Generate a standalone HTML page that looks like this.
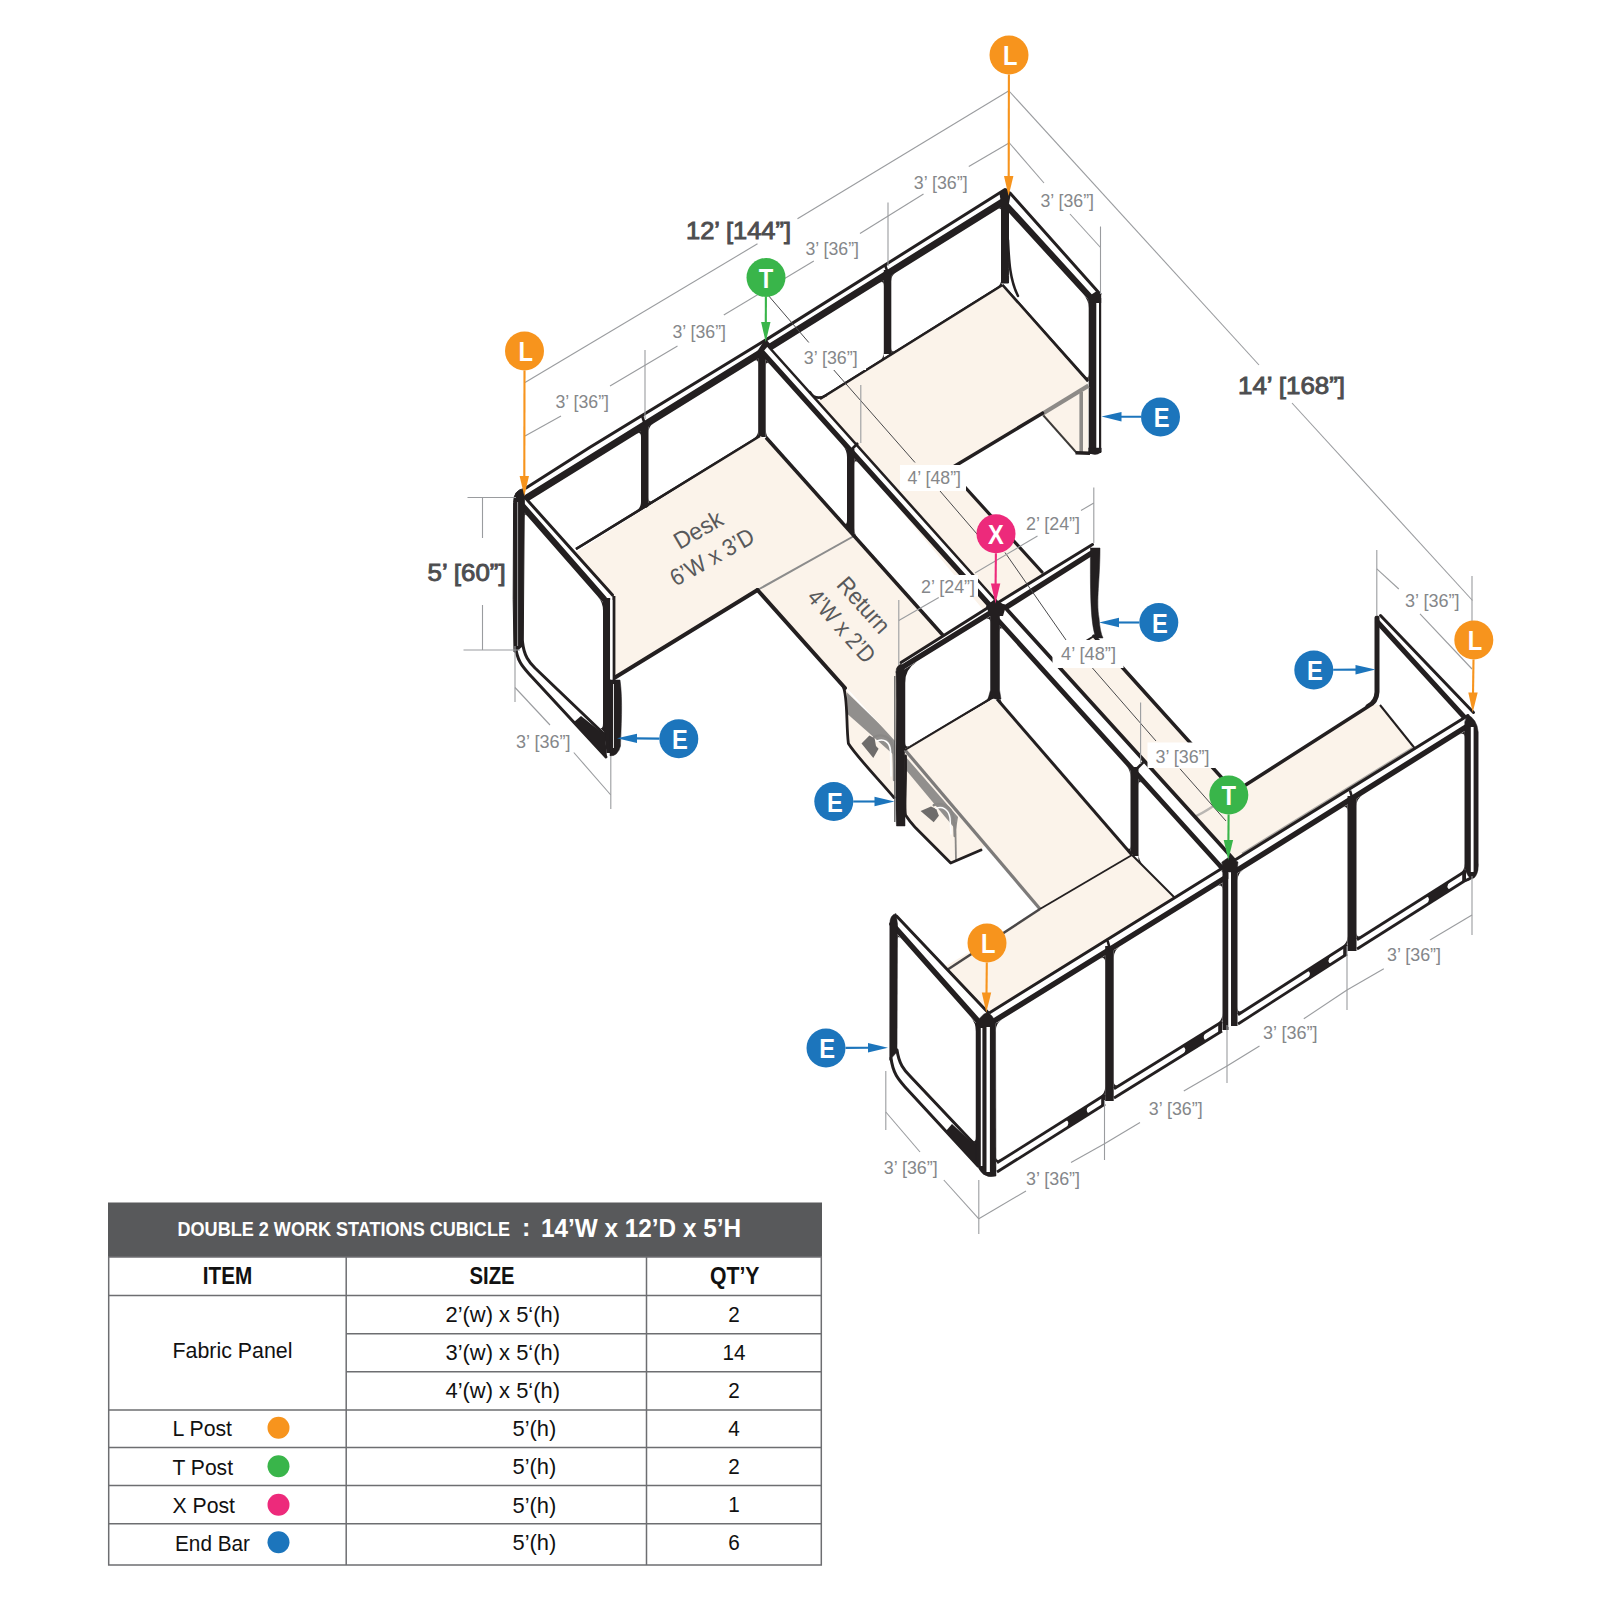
<!DOCTYPE html>
<html><head><meta charset="utf-8"><title>Double 2 Work Stations Cubicle</title>
<style>html,body{margin:0;padding:0;background:#fff}svg{display:block}text{font-family:"Liberation Sans", Arial, sans-serif}</style></head>
<body><svg width="1600" height="1600" viewBox="0 0 1600 1600">
<rect width="1600" height="1600" fill="#fff"/>
<g id="backwall">
<polygon points="526,488 767.5,338.9 1005,189.5 1001.7,202.5 762,352 527.5,497.5" fill="#fff"/>
<polyline points="527.5,497.5 762,352 1001.7,202.5" fill="none" stroke="#231f20" stroke-width="7" stroke-linejoin="round" stroke-linecap="round"/>
<polyline points="526,488 590,447.2 767.5,338.9 1005,189.5" fill="none" stroke="#231f20" stroke-width="3" stroke-linejoin="round" stroke-linecap="round"/>
<rect x="641" y="424" width="7.5" height="84" fill="#231f20"/>
<rect x="883.8" y="270" width="7.5" height="84" fill="#231f20"/>
<rect x="758.2" y="350" width="7.5" height="87" fill="#231f20"/>
<polygon points="757.5,351 765.5,338.5 771,345 766,357" fill="#231f20"/>
<line x1="576" y1="549" x2="760" y2="436" stroke="#231f20" stroke-width="2.5"/>
<line x1="820" y1="399" x2="1002.5" y2="285" stroke="#231f20" stroke-width="2.5"/>
<line x1="642" y1="415.5" x2="645" y2="424.6" stroke="#231f20" stroke-width="2.6"/>
<line x1="885" y1="265" x2="888" y2="273.4" stroke="#231f20" stroke-width="2.6"/>
<path d="M524.3,509.4 Q524.3,503.4 529.4,500.2 L524.3,503.4 Z" fill="#231f20"/>
<path d="M635.9,434.1 Q641,431 641,437 L641,431 Z" fill="#231f20"/>
<path d="M641,502.1 Q641,508.1 635.9,511.2 L641,508.1 Z" fill="#231f20"/>
<path d="M529.4,576.6 Q524.3,579.8 524.3,573.8 L524.3,579.8 Z" fill="#231f20"/>
<path d="M648.5,432.3 Q648.5,426.3 653.6,423.2 L648.5,426.3 Z" fill="#231f20"/>
<path d="M753.2,361.4 Q758.2,358.2 758.2,364.2 L758.2,358.2 Z" fill="#231f20"/>
<path d="M758.2,430.1 Q758.2,436.1 753.1,439.2 L758.2,436.1 Z" fill="#231f20"/>
<path d="M653.6,500.3 Q648.5,503.5 648.5,497.5 L648.5,503.5 Z" fill="#231f20"/>
<path d="M878.7,283.1 Q883.8,280 883.8,286 L883.8,280 Z" fill="#231f20"/>
<path d="M883.8,352.2 Q883.8,358.2 878.7,361.4 L883.8,358.2 Z" fill="#231f20"/>
<path d="M891.2,281.3 Q891.2,275.3 896.3,272.1 L891.2,275.3 Z" fill="#231f20"/>
<path d="M996.4,209.7 Q1001.5,206.5 1001.5,212.5 L1001.5,206.5 Z" fill="#231f20"/>
<path d="M1001.5,278.6 Q1001.5,284.6 996.4,287.8 L1001.5,284.6 Z" fill="#231f20"/>
<path d="M896.3,350.3 Q891.2,353.5 891.2,347.5 L891.2,353.5 Z" fill="#231f20"/>
</g>
<g id="endRT">
<polygon points="1010,193 1100,294 1091,298 1006,205" fill="#fff"/>
<line x1="1010" y1="193" x2="1100" y2="294" stroke="#231f20" stroke-width="3" stroke-linecap="round"/>
<line x1="1006" y1="205" x2="1091" y2="298" stroke="#231f20" stroke-width="6.2" stroke-linecap="round"/>
<polygon points="999.5,193.7 1006.2,188.2 1011,192.6 1008.5,206 1001.5,206" fill="#231f20"/>
<polygon points="1088.5,296.5 1097.5,290.5 1101.2,295 1101.2,303 1088.7,303" fill="#231f20"/>
<path d="M1001.5,198 L1001.5,283 L1008.5,283 C1009,262 1008,250 1008.5,238 L1008.5,200 Z" fill="#231f20" stroke="#231f20" stroke-width="1" stroke-linejoin="round" stroke-linecap="round" />
<path d="M1008,240 C1009,262 1010,280 1018,296" fill="none" stroke="#231f20" stroke-width="2.5" stroke-linejoin="round" stroke-linecap="round" />
<rect x="1088.7" y="297" width="7.6" height="157" fill="#231f20"/>
<rect x="1099" y="298" width="2.2" height="155" fill="#231f20"/>
<path d="M1088.7,452 Q1095,457 1101.2,452 L1101.2,448 L1088.7,448 Z" fill="#231f20" stroke="#231f20" stroke-width="0.5" stroke-linejoin="round" stroke-linecap="round" />
<line x1="1002.5" y1="285" x2="1087.5" y2="380" stroke="#231f20" stroke-width="2.5"/>
<path d="M1083.3,294.2 Q1088.7,300.1 1088.7,308.1 L1088.7,300.1 Z" fill="#231f20"/>
<path d="M1088.7,373.1 Q1088.7,381.1 1083.4,375.1 L1088.7,381.1 Z" fill="#231f20"/>
</g>
<g id="deskUR">
<polygon points="1043,414 1088,385 1088,452 1076.3,452.5" fill="#fbf3ea"/>
<line x1="1043" y1="415" x2="1076.3" y2="452.5" stroke="#3d3a38" stroke-width="1.9"/>
<line x1="1081.2" y1="392" x2="1081.2" y2="452" stroke="#8d8a87" stroke-width="3.6"/>
<line x1="1075.5" y1="452.8" x2="1090" y2="453.2" stroke="#231f20" stroke-width="3.6"/>
<polygon points="812,404 1002.5,285 1088,384 949,467.8 1045,576 985,612" fill="#fbf3ea"/>
<line x1="1088.5" y1="385.6" x2="1042" y2="414" stroke="#8d8a87" stroke-width="4.2"/>
<line x1="1042.5" y1="413.2" x2="949" y2="469.5" stroke="#231f20" stroke-width="3.5" stroke-linecap="round"/>
<line x1="949" y1="469.5" x2="1042" y2="572" stroke="#231f20" stroke-width="3.2" stroke-linecap="round"/>
<line x1="949" y1="469.5" x2="870" y2="455" stroke="#231f20" stroke-width="0"/>
</g>
<g id="spineA">
<polygon points="768,346 996,600.5 990,605.5 762.5,352.5" fill="#fff"/>
<line x1="768" y1="346" x2="996" y2="600.5" stroke="#231f20" stroke-width="2.6" stroke-linecap="round"/>
<line x1="762.5" y1="352.5" x2="990" y2="605.5" stroke="#231f20" stroke-width="5.2" stroke-linecap="round"/>
<rect x="847" y="449" width="7.4" height="84" fill="#231f20"/>
<line x1="766" y1="437.5" x2="991" y2="689" stroke="#231f20" stroke-width="2.5"/>
<line x1="850.5" y1="450.5" x2="858" y2="443" stroke="#231f20" stroke-width="2.6"/>
<path d="M765.8,366.7 Q765.8,359.7 770.4,364.9 L765.8,359.7 Z" fill="#231f20"/>
<path d="M842.3,444.9 Q847,450.1 847,457.1 L847,450.1 Z" fill="#231f20"/>
<path d="M847,520 Q847,527 842.3,521.8 L847,527 Z" fill="#231f20"/>
<path d="M770.4,441.4 Q765.8,436.2 765.8,429.2 L765.8,436.2 Z" fill="#231f20"/>
<path d="M854.4,465.3 Q854.4,458.3 859.1,463.5 L854.4,458.3 Z" fill="#231f20"/>
<path d="M985.8,604.5 Q990.5,609.7 990.5,616.7 L990.5,609.7 Z" fill="#231f20"/>
<path d="M990.5,680.4 Q990.5,687.4 985.8,682.2 L990.5,687.4 Z" fill="#231f20"/>
<path d="M859.1,540.5 Q854.4,535.3 854.4,528.3 L854.4,535.3 Z" fill="#231f20"/>
</g>
<g id="deskUL">
<polygon points="843,686 900,750 900,803 893,797 848.4,743.5 846.5,713" fill="#fbf3ea"/>
<polygon points="847,692.5 895,739 895,756 847.5,714" fill="#918f8d"/>
<polygon points="861.5,743.5 869.4,735.6 874.6,738.2 876,746 878.6,748.7 873.3,758" fill="#6e6c6b"/>
<path d="M874,737 C882,733 892,737 893,748 C894,756 894,770 894,780" fill="none" stroke="#8a8886" stroke-width="2.4" stroke-linejoin="round" stroke-linecap="round" />
<path d="M877,741 C884,738 890,742 890.5,751 L891,776" fill="none" stroke="#fff" stroke-width="1.6" stroke-linejoin="round" stroke-linecap="round" />
<path d="M843,686 C848,696 846,725 848.4,743.5 C856,756 882,783 894,797.5" fill="none" stroke="#231f20" stroke-width="2.8" stroke-linejoin="round" stroke-linecap="round" />
<polygon points="540,575 760,436 768,440 997,694 905,752 757.5,590 615,677.5 615,600" fill="#fbf3ea"/>
<line x1="757.5" y1="590" x2="854" y2="536" stroke="#8c8c8c" stroke-width="2"/>
<line x1="576" y1="549" x2="760" y2="436" stroke="#231f20" stroke-width="2.5"/>
<line x1="766" y1="437.5" x2="991" y2="689" stroke="#231f20" stroke-width="3.5"/>
<line x1="615" y1="677.5" x2="757.5" y2="590" stroke="#231f20" stroke-width="4" stroke-linecap="round"/>
<line x1="757.5" y1="590" x2="845" y2="688" stroke="#231f20" stroke-width="4" stroke-linecap="round"/>
</g>
<g id="endL">
<polygon points="518,495 612,597 612,755 518,650" fill="#fff"/>
<polygon points="525,497.5 612.5,595 603.8,598.8 522.5,506" fill="#fff"/>
<line x1="525" y1="497.5" x2="612.5" y2="595" stroke="#231f20" stroke-width="3" stroke-linecap="round"/>
<line x1="522.5" y1="506" x2="603.8" y2="598.8" stroke="#231f20" stroke-width="6.2" stroke-linecap="round"/>
<path d="M513.6,502 Q513.6,490 524,488.5 L524.3,500 L523.3,640 L523.5,652 L514,652 L513.2,600 Z" fill="#231f20" stroke="#231f20" stroke-width="1" stroke-linejoin="round" stroke-linecap="round" />
<line x1="517.6" y1="502" x2="517.6" y2="646" stroke="#bbb" stroke-width="0.8"/>
<rect x="603" y="598" width="7.2" height="155" fill="#231f20"/>
<rect x="612.4" y="596" width="3" height="84" fill="#231f20"/>
<rect x="610.2" y="600" width="2.2" height="150" fill="#fff"/>
<path d="M597.7,596.5 Q603,602.5 603,610.5 L603,602.5 Z" fill="#231f20"/>
<path d="M603,723.6 Q603,731.6 597.2,726.1 L603,731.6 Z" fill="#231f20"/>
<path d="M524.3,517.7 Q524.3,512.7 527.6,516.4 L524.3,512.7 Z" fill="#231f20"/>
<path d="M612,680 L620,680 C623,700 621,730 620.5,746 Q618,756 610,756 L610,680 Z" fill="#231f20" stroke="#231f20" stroke-width="0.5" stroke-linejoin="round" stroke-linecap="round" />
<line x1="613.5" y1="684" x2="613.5" y2="748" stroke="#ddd" stroke-width="1"/>
<polygon points="516,652 607,757 604,732 523,646" fill="#fff"/>
<path d="M515.5,646 C517,662 524,668 531,676 L606,757" fill="none" stroke="#231f20" stroke-width="3" stroke-linejoin="round" stroke-linecap="round" />
<path d="M522.5,642 C524,656 529,662 535,668 L604,734" fill="none" stroke="#231f20" stroke-width="3" stroke-linejoin="round" stroke-linecap="round" />
<polygon points="574,722 581,716 605,735 607,757" fill="#231f20"/>
</g>
<line x1="820" y1="399" x2="1002.5" y2="285" stroke="#231f20" stroke-width="2.5"/>
<line x1="1002.5" y1="285" x2="1088" y2="381.5" stroke="#231f20" stroke-width="2.5"/>
<path d="M826,395.5 Q815,401 810,392" fill="none" stroke="#231f20" stroke-width="2.5" stroke-linejoin="round" stroke-linecap="round" />
<g id="cross">
<polygon points="899,667 995,608 995,765 899,822" fill="#fff"/>
<polygon points="996,606 1094,547 1094,637 996,698" fill="#fff"/>
<polygon points="901,662.5 993,604.5 991,612.5 899.5,669" fill="#fff"/>
<line x1="901" y1="662.5" x2="993" y2="604.5" stroke="#231f20" stroke-width="3" stroke-linecap="round"/>
<line x1="899.5" y1="669" x2="991" y2="612.5" stroke="#231f20" stroke-width="5.5" stroke-linecap="round"/>
<polygon points="999,602 1092.5,544.5 1091,553.5 1001,610.5" fill="#fff"/>
<line x1="999" y1="602" x2="1092.5" y2="544.5" stroke="#231f20" stroke-width="3" stroke-linecap="round"/>
<line x1="1001" y1="610.5" x2="1091" y2="553.5" stroke="#231f20" stroke-width="5.5" stroke-linecap="round"/>
<path d="M896,672 Q896,666 901,664 L905,670 L905,826 L896.5,826 C895,800 897,700 896,672 Z" fill="#231f20" stroke="#231f20" stroke-width="0.5" stroke-linejoin="round" stroke-linecap="round" />
<line x1="894.8" y1="676" x2="894.8" y2="822" stroke="#555" stroke-width="1.2"/>
<line x1="905" y1="750" x2="991" y2="698.5" stroke="#231f20" stroke-width="2.5"/>
<path d="M984.5,620 Q990.5,616.3 990.5,623.3 L990.5,616.3 Z" fill="#231f20"/>
<path d="M990.5,690.8 Q990.5,697.8 984.5,701.4 L990.5,697.8 Z" fill="#231f20"/>
<path d="M911,745.4 Q905,749 905,742 L905,749 Z" fill="#231f20"/>
<path d="M905,683.1 Q905,669.1 916.9,661.7 L905,669.1 Z" fill="#231f20"/>
<path d="M1090.5,548 L1100,548 C1100,580 1096,600 1099,618 Q1100,632 1103,638 L1096,638 C1091,625 1090,600 1090.5,548 Z" fill="#231f20" stroke="#231f20" stroke-width="0.5" stroke-linejoin="round" stroke-linecap="round" />
</g>
<g id="endRB">
<polygon points="1380.5,615.5 1473.5,712.5 1466,719 1377.5,622" fill="#fff"/>
<line x1="1380.5" y1="615.5" x2="1473.5" y2="712.5" stroke="#231f20" stroke-width="3" stroke-linecap="round"/>
<line x1="1377.5" y1="622" x2="1466" y2="719" stroke="#231f20" stroke-width="5" stroke-linecap="round"/>
<path d="M1377,618 L1377,692 Q1376.5,702 1368,706.5" fill="none" stroke="#231f20" stroke-width="5" stroke-linejoin="round" stroke-linecap="round" />
</g>
<g id="deskLR">
<polygon points="1049,664 1094,636 1234.6,792 1372.5,703.8 1380,705 1416,749 1236,862" fill="#fbf3ea"/>
<line x1="1094" y1="636" x2="1234.6" y2="792" stroke="#231f20" stroke-width="3.5" stroke-linecap="round"/>
<line x1="1234.6" y1="792" x2="1372.5" y2="703.8" stroke="#231f20" stroke-width="3.5" stroke-linecap="round"/>
<line x1="1380" y1="705" x2="1414.5" y2="748" stroke="#231f20" stroke-width="2"/>
<line x1="1049" y1="664" x2="1094" y2="636" stroke="#231f20" stroke-width="2"/>
<line x1="1242" y1="853.5" x2="1413" y2="747.5" stroke="#a9a6a2" stroke-width="1.8"/>
<path d="M1192.5,817.5 Q1200,815 1215,805" fill="none" stroke="#b9b6b2" stroke-width="2.5" stroke-linejoin="round" stroke-linecap="round" />
</g>
<g id="spineB">
<polygon points="992,612 1224,868 1224,905 992,700" fill="#fff"/>
<polygon points="1003.8,606 1236,862 1222,868 992,613.5" fill="#fff"/>
<line x1="1003.8" y1="606" x2="1236" y2="862" stroke="#231f20" stroke-width="3.7" stroke-linecap="round"/>
<line x1="992" y1="613.5" x2="1222" y2="868" stroke="#231f20" stroke-width="4.8" stroke-linecap="round"/>
<rect x="1130.5" y="767" width="8" height="89" fill="#231f20"/>
<line x1="1136" y1="769.5" x2="1143.5" y2="762" stroke="#231f20" stroke-width="2.6"/>
<path d="M990.5,610 L990.5,690 L988,699 L1001,699 L999.5,690 L999.5,610 Z" fill="#231f20" stroke="#231f20" stroke-width="0.5" stroke-linejoin="round" stroke-linecap="round" />
<polygon points="986,606 995,599 1006,606 1003,616 990,616" fill="#231f20"/>
<path d="M999.5,632.2 Q999.5,625.2 1004.2,630.4 L999.5,625.2 Z" fill="#231f20"/>
<path d="M1125.8,765 Q1130.5,770.2 1130.5,777.2 L1130.5,770.2 Z" fill="#231f20"/>
<path d="M1130.5,845.1 Q1130.5,852.1 1125.9,846.8 L1130.5,852.1 Z" fill="#231f20"/>
<path d="M1004.1,706 Q999.5,700.7 999.5,693.7 L999.5,700.7 Z" fill="#231f20"/>
<path d="M1138.5,786 Q1138.5,779 1143.2,784.2 L1138.5,779 Z" fill="#231f20"/>
<path d="M1217.8,866.8 Q1222.5,872 1222.5,879 L1222.5,872 Z" fill="#231f20"/>
<path d="M1143.4,865.4 Q1138.5,860.5 1138.5,853.5 L1138.5,860.5 Z" fill="#231f20"/>
</g>
<g id="deskLL">
<polygon points="904.8,752 985,845 981,850 950.7,863 915.3,827.5 904.8,814.5" fill="#fbf3ea"/>
<polygon points="905,756 958,817 956,830 906,770" fill="#918f8d"/>
<polygon points="920.6,811 931,806.5 936.3,809 938.9,815.7 933.7,822.2" fill="#6e6c6b"/>
<path d="M933.7,805.2 C941,802 951,806 953,816 C954.5,824 954.7,830 954.7,836" fill="none" stroke="#8a8886" stroke-width="2.4" stroke-linejoin="round" stroke-linecap="round" />
<path d="M936,808.5 C942,806 948.5,809 950,818 L951,834" fill="none" stroke="#fff" stroke-width="1.5" stroke-linejoin="round" stroke-linecap="round" />
<line x1="955.3" y1="822" x2="956" y2="861" stroke="#8a8886" stroke-width="1.8"/>
<path d="M905.5,756 C906,790 904,806 905.5,815 C910,822 912,824 915.3,827.5 L950.7,863 L981,850" fill="none" stroke="#231f20" stroke-width="2.8" stroke-linejoin="round" stroke-linecap="round" />
<polygon points="905,749 994,698.5 1133,855 1040,909" fill="#fbf3ea"/>
<polygon points="894,997 1132,855 1176,899 1229,960 990,1110" fill="#fbf3ea"/>
<line x1="905" y1="750" x2="1040" y2="909" stroke="#7d7b7a" stroke-width="3.2"/>
<line x1="905" y1="750" x2="991" y2="698.5" stroke="#231f20" stroke-width="2"/>
<line x1="947" y1="970" x2="1040" y2="909" stroke="#4a4747" stroke-width="2.5"/>
<line x1="1040" y1="909" x2="1132" y2="855" stroke="#231f20" stroke-width="1.8"/>
<line x1="997" y1="699" x2="1132" y2="855" stroke="#231f20" stroke-width="3"/>
<line x1="1132" y1="855" x2="1175" y2="898" stroke="#231f20" stroke-width="2"/>
</g>
<g id="front">
<polygon points="988,1018 1472,720 1476,880 988,1178" fill="#fff"/>
<polygon points="990,1012.5 1229,864 1229,875.5 992.5,1022" fill="#fff"/>
<line x1="990" y1="1012.5" x2="1229" y2="864" stroke="#231f20" stroke-width="3" stroke-linecap="round"/>
<line x1="992.5" y1="1022" x2="1229" y2="875.5" stroke="#231f20" stroke-width="5.5" stroke-linecap="round"/>
<polygon points="1235,860 1468,715.5 1466,727 1237.5,870" fill="#fff"/>
<line x1="1235" y1="860" x2="1468" y2="715.5" stroke="#231f20" stroke-width="3" stroke-linecap="round"/>
<line x1="1237.5" y1="870" x2="1466" y2="727" stroke="#231f20" stroke-width="5.5" stroke-linecap="round"/>
<rect x="1105.2" y="946" width="8.5" height="155" fill="#231f20"/>
<rect x="1347.5" y="796" width="9" height="155" fill="#231f20"/>
<rect x="1222.5" y="868" width="6" height="162" fill="#231f20"/>
<rect x="1231" y="868" width="6.5" height="158" fill="#231f20"/>
<rect x="1228.5" y="872" width="2.5" height="155" fill="#fff"/>
<path d="M1222,862 L1229,857 L1238,862 L1237,872 L1222.5,872 Z" fill="#231f20" stroke="#231f20" stroke-width="0.5" stroke-linejoin="round" stroke-linecap="round" />
<path d="M1464.8,722 L1464.8,868 Q1468,880 1474,878 Q1478.2,874 1478.2,866 L1478.2,732 Q1477,719 1467.5,714.5 Z" fill="#231f20" stroke="#231f20" stroke-width="0.5" stroke-linejoin="round" stroke-linecap="round" />
<line x1="1472.2" y1="727" x2="1472.2" y2="872" stroke="#fff" stroke-width="2.8"/>
<path d="M1476.8,864 Q1477,877 1465.5,880.5" fill="none" stroke="#231f20" stroke-width="2.8" stroke-linejoin="round" stroke-linecap="round" />
<line x1="997" y1="1162.8" x2="1105" y2="1094.8" stroke="#231f20" stroke-width="2.8"/>
<line x1="997" y1="1172" x2="1105" y2="1104" stroke="#231f20" stroke-width="2.8"/>
<path d="M1065.4,1119.7 Q1071.4,1121.8 1065.4,1128.9 L1089.6,1113.7 Q1083.6,1111.6 1089.6,1104.5 Z" fill="#231f20"/>
<polygon points="1101.2,1097.2 1105,1094.8 1105,1104 1101.2,1106.4" fill="#231f20"/>
<line x1="1114" y1="1088.8" x2="1222" y2="1021.8" stroke="#231f20" stroke-width="2.8"/>
<line x1="1114" y1="1098" x2="1222" y2="1031" stroke="#231f20" stroke-width="2.8"/>
<path d="M1182.4,1046.4 Q1188.4,1048.5 1182.4,1055.6 L1206.6,1040.6 Q1200.6,1038.5 1206.6,1031.4 Z" fill="#231f20"/>
<polygon points="1218.2,1024.1 1222,1021.8 1222,1031 1218.2,1033.3" fill="#231f20"/>
<line x1="1238" y1="1014.8" x2="1347" y2="944.8" stroke="#231f20" stroke-width="2.8"/>
<line x1="1238" y1="1024" x2="1347" y2="954" stroke="#231f20" stroke-width="2.8"/>
<path d="M1307,970.4 Q1313,972.5 1307,979.6 L1331.4,964.1 Q1325.4,962 1331.4,954.9 Z" fill="#231f20"/>
<polygon points="1343.2,947.2 1347,944.8 1347,954 1343.2,956.5" fill="#231f20"/>
<line x1="1357" y1="939.8" x2="1466" y2="870.8" stroke="#231f20" stroke-width="2.8"/>
<line x1="1357" y1="949" x2="1466" y2="880" stroke="#231f20" stroke-width="2.8"/>
<path d="M1426,896.1 Q1432,898.2 1426,905.3 L1450.4,889.9 Q1444.4,887.8 1450.4,880.7 Z" fill="#231f20"/>
<polygon points="1462.2,873.2 1466,870.8 1466,880 1462.2,882.4" fill="#231f20"/>
<line x1="1107.5" y1="940.5" x2="1110.5" y2="951" stroke="#231f20" stroke-width="2.6"/>
<line x1="1350" y1="790.5" x2="1353" y2="801" stroke="#231f20" stroke-width="2.6"/>
<path d="M995.8,1030.5 Q995.8,1023.5 1001.8,1019.8 L995.8,1023.5 Z" fill="#231f20"/>
<path d="M1099.3,959.3 Q1105.2,955.7 1105.2,962.7 L1105.2,955.7 Z" fill="#231f20"/>
<path d="M1105.2,1086.4 Q1105.2,1093.4 1099.3,1097.2 L1105.2,1093.4 Z" fill="#231f20"/>
<path d="M1001.7,1158.6 Q995.8,1162.4 995.8,1155.4 L995.8,1162.4 Z" fill="#231f20"/>
<path d="M1113.8,957.4 Q1113.8,950.4 1119.7,946.7 L1113.8,950.4 Z" fill="#231f20"/>
<path d="M1216.5,886.7 Q1222.5,883 1222.5,890 L1222.5,883 Z" fill="#231f20"/>
<path d="M1222.5,1013.3 Q1222.5,1020.3 1216.6,1024 L1222.5,1020.3 Z" fill="#231f20"/>
<path d="M1119.7,1084.1 Q1113.8,1087.8 1113.8,1080.8 L1113.8,1087.8 Z" fill="#231f20"/>
<path d="M1237.5,880.5 Q1237.5,873.5 1243.4,869.8 L1237.5,873.5 Z" fill="#231f20"/>
<path d="M1341.6,808.4 Q1347.5,804.7 1347.5,811.7 L1347.5,804.7 Z" fill="#231f20"/>
<path d="M1347.5,936.3 Q1347.5,943.3 1341.6,947.1 L1347.5,943.3 Z" fill="#231f20"/>
<path d="M1243.4,1010.1 Q1237.5,1013.9 1237.5,1006.9 L1237.5,1013.9 Z" fill="#231f20"/>
<path d="M1356.5,806 Q1356.5,799 1362.4,795.3 L1356.5,799 Z" fill="#231f20"/>
<path d="M1458.9,735 Q1464.8,731.3 1464.8,738.3 L1464.8,731.3 Z" fill="#231f20"/>
<path d="M1464.8,863.4 Q1464.8,870.4 1458.9,874.1 L1464.8,870.4 Z" fill="#231f20"/>
<path d="M1362.4,935.2 Q1356.5,938.9 1356.5,931.9 L1356.5,938.9 Z" fill="#231f20"/>
</g>
<g id="endLB">
<polygon points="891,922 982,1020 982,1170 891,1068" fill="#fff"/>
<polygon points="896.5,916 988,1012.5 978.5,1021.5 892,924" fill="#fff"/>
<line x1="896.5" y1="916" x2="988" y2="1012.5" stroke="#231f20" stroke-width="3" stroke-linecap="round"/>
<line x1="892" y1="924" x2="978.5" y2="1021.5" stroke="#231f20" stroke-width="5.5" stroke-linecap="round"/>
<path d="M889.8,924 Q889.8,915 896,913.5 L897.5,924 L897,1052 L889.8,1060 Z" fill="#231f20" stroke="#231f20" stroke-width="0.5" stroke-linejoin="round" stroke-linecap="round" />
<path d="M891,1058 C893,1074 899,1080 906,1088 L978,1166" fill="none" stroke="#231f20" stroke-width="3" stroke-linejoin="round" stroke-linecap="round" />
<path d="M897,1050 C899,1064 904,1070 910,1076 L978,1148" fill="none" stroke="#231f20" stroke-width="3" stroke-linejoin="round" stroke-linecap="round" />
<polygon points="946,1131 952,1124 978,1148 978,1166" fill="#231f20"/>
<path d="M970.7,1017.3 Q976,1023.3 976,1031.3 L976,1023.3 Z" fill="#231f20"/>
<path d="M976,1136.5 Q976,1144.5 970.5,1138.7 L976,1144.5 Z" fill="#231f20"/>
<path d="M897.5,939.8 Q897.5,934.8 900.8,938.5 L897.5,934.8 Z" fill="#231f20"/>
<path d="M976,1022 L976,1160 Q980,1180 996,1176 L995.5,1022 Q990,1010 984,1014 Z" fill="#231f20" stroke="#231f20" stroke-width="0.5" stroke-linejoin="round" stroke-linecap="round" />
<line x1="981.6" y1="1028" x2="981.6" y2="1166" stroke="#fff" stroke-width="1.6"/>
<line x1="988.2" y1="1027" x2="988.2" y2="1172" stroke="#fff" stroke-width="3.4"/>
</g>
<g id="dims" stroke-linecap="butt">
<line x1="525" y1="382.5" x2="757.5" y2="243.8" stroke="#9a9c9f" stroke-width="1.1"/>
<line x1="797.5" y1="218.8" x2="1008.5" y2="91" stroke="#9a9c9f" stroke-width="1.1"/>
<line x1="525" y1="436" x2="561" y2="416" stroke="#9a9c9f" stroke-width="1.1"/>
<line x1="610" y1="386" x2="677.5" y2="346" stroke="#9a9c9f" stroke-width="1.1"/>
<line x1="723.8" y1="315" x2="813.8" y2="261" stroke="#9a9c9f" stroke-width="1.1"/>
<line x1="860" y1="233.5" x2="923.5" y2="194" stroke="#9a9c9f" stroke-width="1.1"/>
<line x1="968.8" y1="166.5" x2="1009" y2="143" stroke="#9a9c9f" stroke-width="1.1"/>
<line x1="645" y1="350" x2="645" y2="419" stroke="#9a9c9f" stroke-width="1.1"/>
<line x1="888" y1="202.5" x2="888" y2="266" stroke="#9a9c9f" stroke-width="1.1"/>
<line x1="1009" y1="91" x2="1259" y2="365" stroke="#9a9c9f" stroke-width="1.1"/>
<line x1="1292" y1="403" x2="1472.5" y2="600.5" stroke="#9a9c9f" stroke-width="1.1"/>
<line x1="1009" y1="142.5" x2="1044" y2="183" stroke="#9a9c9f" stroke-width="1.1"/>
<line x1="1070" y1="214" x2="1100.5" y2="247.5" stroke="#9a9c9f" stroke-width="1.1"/>
<line x1="1100.5" y1="226.5" x2="1100.5" y2="294" stroke="#9a9c9f" stroke-width="1.1"/>
<line x1="1376.8" y1="550" x2="1376.8" y2="615" stroke="#9a9c9f" stroke-width="1.1"/>
<line x1="1472" y1="576" x2="1472" y2="622" stroke="#9a9c9f" stroke-width="1.1"/>
<line x1="1376.8" y1="568.8" x2="1398.8" y2="589" stroke="#9a9c9f" stroke-width="1.1"/>
<line x1="1420" y1="613.8" x2="1472" y2="669" stroke="#9a9c9f" stroke-width="1.1"/>
<line x1="467.5" y1="497.5" x2="516" y2="497.5" stroke="#9a9c9f" stroke-width="1.1"/>
<line x1="482.5" y1="497.5" x2="482.5" y2="538" stroke="#9a9c9f" stroke-width="1.1"/>
<line x1="482.5" y1="605" x2="482.5" y2="650" stroke="#9a9c9f" stroke-width="1.1"/>
<line x1="463.5" y1="650" x2="520" y2="650" stroke="#9a9c9f" stroke-width="1.1"/>
<line x1="515" y1="646" x2="515" y2="702" stroke="#9a9c9f" stroke-width="1.1"/>
<line x1="515" y1="687.5" x2="550" y2="725" stroke="#9a9c9f" stroke-width="1.1"/>
<line x1="573.8" y1="752.5" x2="610.8" y2="795" stroke="#9a9c9f" stroke-width="1.1"/>
<line x1="610.8" y1="756" x2="610.8" y2="809" stroke="#9a9c9f" stroke-width="1.1"/>
<line x1="768.8" y1="296" x2="808.8" y2="342.5" stroke="#4a4a4c" stroke-width="1"/>
<line x1="833.8" y1="370" x2="915" y2="462.5" stroke="#4a4a4c" stroke-width="1"/>
<line x1="940" y1="491" x2="980" y2="537.5" stroke="#4a4a4c" stroke-width="1"/>
<line x1="1005" y1="552.5" x2="1066" y2="640" stroke="#4a4a4c" stroke-width="1"/>
<line x1="1092" y1="667.5" x2="1156" y2="741" stroke="#4a4a4c" stroke-width="1"/>
<line x1="1180" y1="768.8" x2="1226" y2="821" stroke="#4a4a4c" stroke-width="1"/>
<line x1="860.8" y1="385" x2="860.8" y2="443" stroke="#9a9c9f" stroke-width="1.1"/>
<line x1="1140.6" y1="702.5" x2="1140.6" y2="764" stroke="#9a9c9f" stroke-width="1.1"/>
<line x1="1093.8" y1="487.5" x2="1093.8" y2="543" stroke="#9a9c9f" stroke-width="1.1"/>
<line x1="1093.8" y1="503" x2="1081" y2="510.5" stroke="#9a9c9f" stroke-width="1.1"/>
<line x1="1037.5" y1="536" x2="975" y2="573" stroke="#9a9c9f" stroke-width="1.1"/>
<line x1="938.8" y1="597.5" x2="898.8" y2="620.5" stroke="#9a9c9f" stroke-width="1.1"/>
<line x1="898.8" y1="600" x2="898.8" y2="665" stroke="#9a9c9f" stroke-width="1.1"/>
<line x1="885.8" y1="1071" x2="885.8" y2="1130" stroke="#9a9c9f" stroke-width="1.1"/>
<line x1="978.8" y1="1180" x2="978.8" y2="1234" stroke="#9a9c9f" stroke-width="1.1"/>
<line x1="1104.5" y1="1100" x2="1104.5" y2="1160" stroke="#9a9c9f" stroke-width="1.1"/>
<line x1="1227" y1="1025" x2="1227" y2="1083" stroke="#9a9c9f" stroke-width="1.1"/>
<line x1="1347" y1="946" x2="1347" y2="1010" stroke="#9a9c9f" stroke-width="1.1"/>
<line x1="1472" y1="876" x2="1472" y2="935" stroke="#9a9c9f" stroke-width="1.1"/>
<line x1="885.8" y1="1112" x2="920" y2="1152" stroke="#9a9c9f" stroke-width="1.1"/>
<line x1="943.8" y1="1180" x2="978.8" y2="1218.8" stroke="#9a9c9f" stroke-width="1.1"/>
<line x1="978.8" y1="1218.8" x2="1026" y2="1191" stroke="#9a9c9f" stroke-width="1.1"/>
<line x1="1071" y1="1162.5" x2="1104.5" y2="1143.8" stroke="#9a9c9f" stroke-width="1.1"/>
<line x1="1104.5" y1="1143.8" x2="1140" y2="1122.5" stroke="#9a9c9f" stroke-width="1.1"/>
<line x1="1183.8" y1="1091" x2="1227" y2="1066" stroke="#9a9c9f" stroke-width="1.1"/>
<line x1="1227" y1="1066" x2="1259.5" y2="1046" stroke="#9a9c9f" stroke-width="1.1"/>
<line x1="1303.8" y1="1018.8" x2="1347" y2="990" stroke="#9a9c9f" stroke-width="1.1"/>
<line x1="1347" y1="990" x2="1383.8" y2="968.8" stroke="#9a9c9f" stroke-width="1.1"/>
<line x1="1430" y1="940" x2="1472" y2="915" stroke="#9a9c9f" stroke-width="1.1"/>
</g>
<g id="dimtext">
<rect x="900" y="465" width="66" height="26" fill="#fff"/>
<rect x="919" y="575" width="59" height="21.5" fill="#fff"/>
<rect x="801" y="348" width="65" height="22" fill="#fff"/>
<rect x="1052.5" y="640" width="71" height="28" fill="#fff"/>
<rect x="1147.5" y="742.5" width="68" height="25.5" fill="#fff"/>
<text x="555.5" y="408" font-size="17.6" fill="#85878a" text-anchor="start" textLength="53.5" lengthAdjust="spacingAndGlyphs">3’ [36”]</text>
<text x="672.5" y="337.5" font-size="17.6" fill="#85878a" text-anchor="start" textLength="53.5" lengthAdjust="spacingAndGlyphs">3’ [36”]</text>
<text x="805.5" y="255" font-size="17.6" fill="#85878a" text-anchor="start" textLength="53.5" lengthAdjust="spacingAndGlyphs">3’ [36”]</text>
<text x="913.8" y="188.8" font-size="17.6" fill="#85878a" text-anchor="start" textLength="53.8" lengthAdjust="spacingAndGlyphs">3’ [36”]</text>
<text x="1040.5" y="206.5" font-size="17.6" fill="#85878a" text-anchor="start" textLength="53.5" lengthAdjust="spacingAndGlyphs">3’ [36”]</text>
<text x="1405" y="607" font-size="17.6" fill="#85878a" text-anchor="start" textLength="54.5" lengthAdjust="spacingAndGlyphs">3’ [36”]</text>
<text x="803.8" y="363.8" font-size="17.6" fill="#85878a" text-anchor="start" textLength="53.8" lengthAdjust="spacingAndGlyphs">3’ [36”]</text>
<text x="907.5" y="483.8" font-size="17.6" fill="#85878a" text-anchor="start" textLength="53.5" lengthAdjust="spacingAndGlyphs">4’ [48”]</text>
<text x="1061" y="660" font-size="17.6" fill="#85878a" text-anchor="start" textLength="55" lengthAdjust="spacingAndGlyphs">4’ [48”]</text>
<text x="1155.5" y="762.5" font-size="17.6" fill="#85878a" text-anchor="start" textLength="54" lengthAdjust="spacingAndGlyphs">3’ [36”]</text>
<text x="1026" y="530" font-size="17.6" fill="#85878a" text-anchor="start" textLength="54" lengthAdjust="spacingAndGlyphs">2’ [24”]</text>
<text x="921" y="592.5" font-size="17.6" fill="#85878a" text-anchor="start" textLength="54" lengthAdjust="spacingAndGlyphs">2’ [24”]</text>
<text x="516" y="747.5" font-size="17.6" fill="#85878a" text-anchor="start" textLength="54.5" lengthAdjust="spacingAndGlyphs">3’ [36”]</text>
<text x="883.8" y="1173.8" font-size="17.6" fill="#85878a" text-anchor="start" textLength="53.8" lengthAdjust="spacingAndGlyphs">3’ [36”]</text>
<text x="1026" y="1184.5" font-size="17.6" fill="#85878a" text-anchor="start" textLength="54" lengthAdjust="spacingAndGlyphs">3’ [36”]</text>
<text x="1148.8" y="1114.5" font-size="17.6" fill="#85878a" text-anchor="start" textLength="53.8" lengthAdjust="spacingAndGlyphs">3’ [36”]</text>
<text x="1263" y="1038.8" font-size="17.6" fill="#85878a" text-anchor="start" textLength="54.5" lengthAdjust="spacingAndGlyphs">3’ [36”]</text>
<text x="1387" y="961" font-size="17.6" fill="#85878a" text-anchor="start" textLength="54" lengthAdjust="spacingAndGlyphs">3’ [36”]</text>
<text x="686" y="238.8" font-size="23.6" fill="#4d4d4f" text-anchor="start" textLength="105" lengthAdjust="spacingAndGlyphs" stroke="#4d4d4f" stroke-width="0.9">12’ [144”]</text>
<text x="1238" y="394" font-size="23.6" fill="#4d4d4f" text-anchor="start" textLength="107" lengthAdjust="spacingAndGlyphs" stroke="#4d4d4f" stroke-width="0.9">14’ [168”]</text>
<text x="427.5" y="580.6" font-size="23.6" fill="#4d4d4f" text-anchor="start" textLength="78.1" lengthAdjust="spacingAndGlyphs" stroke="#4d4d4f" stroke-width="0.9">5’ [60”]</text>
<text x="679.4" y="550" font-size="23.7" fill="#58595b" text-anchor="start" transform="rotate(-30 679.4 550)" textLength="52.5" lengthAdjust="spacingAndGlyphs">Desk</text>
<text x="675.8" y="586.8" font-size="23.7" fill="#58595b" text-anchor="start" transform="rotate(-29.5 675.8 586.8)" textLength="92.5" lengthAdjust="spacingAndGlyphs">6’W x 3’D</text>
<text x="835.5" y="585.5" font-size="23.7" fill="#58595b" text-anchor="start" transform="rotate(48.3 835.5 585.5)" textLength="66.5" lengthAdjust="spacingAndGlyphs">Return</text>
<text x="805.9" y="597.9" font-size="23.7" fill="#58595b" text-anchor="start" transform="rotate(48.6 805.9 597.9)" textLength="89.3" lengthAdjust="spacingAndGlyphs">4’W x 2’D</text>
</g>
<g id="marks">
<line x1="1008.9" y1="74.5" x2="1008.7" y2="178" stroke="#f7941d" stroke-width="2.1"/>
<polygon points="1008.6,196 1004,176 1013.4,176" fill="#f7941d"/>
<circle cx="1009" cy="55" r="19.5" fill="#f7941d"/>
<text x="1010.2" y="65.1" font-size="27.2" fill="#fff" text-anchor="middle" font-weight="bold" textLength="14.5" lengthAdjust="spacingAndGlyphs">L</text>
<line x1="524.5" y1="370.5" x2="524.3" y2="478" stroke="#f7941d" stroke-width="2.1"/>
<polygon points="524.3,496 519.6,476 529,476" fill="#f7941d"/>
<circle cx="524.5" cy="351" r="19.5" fill="#f7941d"/>
<text x="525.7" y="361.1" font-size="27.2" fill="#fff" text-anchor="middle" font-weight="bold" textLength="14.5" lengthAdjust="spacingAndGlyphs">L</text>
<line x1="765.9" y1="297" x2="765.8" y2="324" stroke="#39b54a" stroke-width="2.1"/>
<polygon points="765.7,342 761.1,322 770.5,322" fill="#39b54a"/>
<circle cx="766" cy="277.5" r="19.5" fill="#39b54a"/>
<text x="766" y="287.6" font-size="27.2" fill="#fff" text-anchor="middle" font-weight="bold" textLength="14.5" lengthAdjust="spacingAndGlyphs">T</text>
<line x1="995.9" y1="553.2" x2="995.6" y2="585.5" stroke="#ed2a7b" stroke-width="2.1"/>
<polygon points="995.5,603.5 990.9,583.5 1000.3,583.5" fill="#ed2a7b"/>
<circle cx="996" cy="533.8" r="19.5" fill="#ed2a7b"/>
<text x="996" y="543.9" font-size="27.2" fill="#fff" text-anchor="middle" font-weight="bold" textLength="15.8" lengthAdjust="spacingAndGlyphs">X</text>
<line x1="1141" y1="416.8" x2="1119.5" y2="416.7" stroke="#1c75bc" stroke-width="2.1"/>
<polygon points="1101.5,416.5 1121.5,412 1121.5,421.4" fill="#1c75bc"/>
<circle cx="1160.5" cy="417" r="19.5" fill="#1c75bc"/>
<text x="1161.7" y="427.1" font-size="27.2" fill="#fff" text-anchor="middle" font-weight="bold" textLength="15.8" lengthAdjust="spacingAndGlyphs">E</text>
<line x1="1139.2" y1="622.5" x2="1117" y2="622.5" stroke="#1c75bc" stroke-width="2.1"/>
<polygon points="1099,622.5 1119,617.8 1119,627.2" fill="#1c75bc"/>
<circle cx="1158.8" cy="622.5" r="19.5" fill="#1c75bc"/>
<text x="1160" y="632.6" font-size="27.2" fill="#fff" text-anchor="middle" font-weight="bold" textLength="15.8" lengthAdjust="spacingAndGlyphs">E</text>
<line x1="1333.2" y1="669.8" x2="1357.5" y2="669.6" stroke="#1c75bc" stroke-width="2.1"/>
<polygon points="1375.5,669.5 1355.5,674.4 1355.5,665" fill="#1c75bc"/>
<circle cx="1313.8" cy="670" r="19.5" fill="#1c75bc"/>
<text x="1315" y="680.1" font-size="27.2" fill="#fff" text-anchor="middle" font-weight="bold" textLength="15.8" lengthAdjust="spacingAndGlyphs">E</text>
<line x1="1473.5" y1="659.5" x2="1473" y2="694.5" stroke="#f7941d" stroke-width="2.1"/>
<polygon points="1472.7,712.5 1468.3,692.4 1477.7,692.6" fill="#f7941d"/>
<circle cx="1473.8" cy="640" r="19.5" fill="#f7941d"/>
<text x="1475" y="650.1" font-size="27.2" fill="#fff" text-anchor="middle" font-weight="bold" textLength="14.5" lengthAdjust="spacingAndGlyphs">L</text>
<line x1="1228.6" y1="814.5" x2="1228.4" y2="842" stroke="#39b54a" stroke-width="2.1"/>
<polygon points="1228.3,860 1223.7,840 1233.1,840" fill="#39b54a"/>
<circle cx="1228.8" cy="795" r="19.5" fill="#39b54a"/>
<text x="1228.8" y="805.1" font-size="27.2" fill="#fff" text-anchor="middle" font-weight="bold" textLength="14.5" lengthAdjust="spacingAndGlyphs">T</text>
<line x1="659.3" y1="738.6" x2="635" y2="738.4" stroke="#1c75bc" stroke-width="2.1"/>
<polygon points="617,738.3 637,733.7 637,743.1" fill="#1c75bc"/>
<circle cx="678.8" cy="738.8" r="19.5" fill="#1c75bc"/>
<text x="680" y="748.9" font-size="27.2" fill="#fff" text-anchor="middle" font-weight="bold" textLength="15.8" lengthAdjust="spacingAndGlyphs">E</text>
<line x1="853.2" y1="801.5" x2="876.5" y2="801.5" stroke="#1c75bc" stroke-width="2.1"/>
<polygon points="894.5,801.5 874.5,806.2 874.5,796.8" fill="#1c75bc"/>
<circle cx="833.8" cy="801.5" r="19.5" fill="#1c75bc"/>
<text x="835" y="811.6" font-size="27.2" fill="#fff" text-anchor="middle" font-weight="bold" textLength="15.8" lengthAdjust="spacingAndGlyphs">E</text>
<line x1="986.8" y1="962.5" x2="986.5" y2="994.5" stroke="#f7941d" stroke-width="2.1"/>
<polygon points="986.3,1012.5 981.8,992.5 991.2,992.5" fill="#f7941d"/>
<circle cx="987" cy="943" r="19.5" fill="#f7941d"/>
<text x="988.2" y="953.1" font-size="27.2" fill="#fff" text-anchor="middle" font-weight="bold" textLength="14.5" lengthAdjust="spacingAndGlyphs">L</text>
<line x1="845.5" y1="1047.9" x2="870" y2="1047.8" stroke="#1c75bc" stroke-width="2.1"/>
<polygon points="888,1047.7 868,1052.5 868,1043.1" fill="#1c75bc"/>
<circle cx="826" cy="1048" r="19.5" fill="#1c75bc"/>
<text x="827.2" y="1058.1" font-size="27.2" fill="#fff" text-anchor="middle" font-weight="bold" textLength="15.8" lengthAdjust="spacingAndGlyphs">E</text>
</g>
<g id="table">
<rect x="108" y="1202.5" width="714" height="54.5" fill="#58595b"/>
<rect x="108.7" y="1257" width="712.6" height="308" fill="none" stroke="#6d6e71" stroke-width="1.5"/>
<line x1="108" y1="1295.5" x2="822" y2="1295.5" stroke="#6d6e71" stroke-width="1.5"/>
<line x1="346.2" y1="1333.8" x2="822" y2="1333.8" stroke="#6d6e71" stroke-width="1.5"/>
<line x1="346.2" y1="1371.8" x2="822" y2="1371.8" stroke="#6d6e71" stroke-width="1.5"/>
<line x1="108" y1="1410" x2="822" y2="1410" stroke="#6d6e71" stroke-width="1.5"/>
<line x1="108" y1="1447.5" x2="822" y2="1447.5" stroke="#6d6e71" stroke-width="1.5"/>
<line x1="108" y1="1485.5" x2="822" y2="1485.5" stroke="#6d6e71" stroke-width="1.5"/>
<line x1="108" y1="1523.8" x2="822" y2="1523.8" stroke="#6d6e71" stroke-width="1.5"/>
<line x1="346.2" y1="1257" x2="346.2" y2="1565" stroke="#6d6e71" stroke-width="1.5"/>
<line x1="646.5" y1="1257" x2="646.5" y2="1565" stroke="#6d6e71" stroke-width="1.5"/>
<text x="177.5" y="1236" font-size="19.5" fill="#fff" text-anchor="start" font-weight="bold" textLength="332.5" lengthAdjust="spacingAndGlyphs">DOUBLE 2 WORK STATIONS  CUBICLE</text>
<text x="522" y="1236" font-size="25" fill="#fff" text-anchor="start" font-weight="bold">:</text>
<text x="541" y="1236.5" font-size="25" fill="#fff" text-anchor="start" font-weight="bold" textLength="200" lengthAdjust="spacingAndGlyphs">14’W x 12’D x 5’H</text>
<text x="227.5" y="1283.5" font-size="23" fill="#111" text-anchor="middle" font-weight="bold" textLength="49.5" lengthAdjust="spacingAndGlyphs">ITEM</text>
<text x="492" y="1283.5" font-size="23" fill="#111" text-anchor="middle" font-weight="bold" textLength="45" lengthAdjust="spacingAndGlyphs">SIZE</text>
<text x="734.7" y="1283.5" font-size="23" fill="#111" text-anchor="middle" font-weight="bold" textLength="49.5" lengthAdjust="spacingAndGlyphs">QT’Y</text>
<text x="172.5" y="1358" font-size="22.5" fill="#111" text-anchor="start" textLength="120" lengthAdjust="spacingAndGlyphs">Fabric Panel</text>
<text x="445.5" y="1321.8" font-size="22.5" fill="#111" text-anchor="start" textLength="114.5" lengthAdjust="spacingAndGlyphs">2’(w) x 5‘(h)</text>
<text x="445.5" y="1359.5" font-size="22.5" fill="#111" text-anchor="start" textLength="114.5" lengthAdjust="spacingAndGlyphs">3’(w) x 5‘(h)</text>
<text x="445.5" y="1398" font-size="22.5" fill="#111" text-anchor="start" textLength="114.5" lengthAdjust="spacingAndGlyphs">4’(w) x 5‘(h)</text>
<text x="734" y="1321.8" font-size="22.5" fill="#111" text-anchor="middle" textLength="11.5" lengthAdjust="spacingAndGlyphs">2</text>
<text x="734" y="1359.5" font-size="22.5" fill="#111" text-anchor="middle" textLength="23" lengthAdjust="spacingAndGlyphs">14</text>
<text x="734" y="1398" font-size="22.5" fill="#111" text-anchor="middle" textLength="11.5" lengthAdjust="spacingAndGlyphs">2</text>
<text x="734" y="1435.5" font-size="22.5" fill="#111" text-anchor="middle" textLength="11.5" lengthAdjust="spacingAndGlyphs">4</text>
<text x="734" y="1473.5" font-size="22.5" fill="#111" text-anchor="middle" textLength="11.5" lengthAdjust="spacingAndGlyphs">2</text>
<text x="734" y="1511.5" font-size="22.5" fill="#111" text-anchor="middle" textLength="11.5" lengthAdjust="spacingAndGlyphs">1</text>
<text x="734" y="1549.5" font-size="22.5" fill="#111" text-anchor="middle" textLength="11.5" lengthAdjust="spacingAndGlyphs">6</text>
<text x="172.5" y="1436" font-size="22.5" fill="#111" text-anchor="start" textLength="59.5" lengthAdjust="spacingAndGlyphs">L Post</text>
<circle cx="278.5" cy="1427.8" r="11" fill="#f7941d"/>
<text x="512.5" y="1435.5" font-size="22.5" fill="#111" text-anchor="start" textLength="43.8" lengthAdjust="spacingAndGlyphs">5’(h)</text>
<text x="172.5" y="1474.5" font-size="22.5" fill="#111" text-anchor="start" textLength="60.5" lengthAdjust="spacingAndGlyphs">T Post</text>
<circle cx="278.5" cy="1466.3" r="11" fill="#39b54a"/>
<text x="512.5" y="1474" font-size="22.5" fill="#111" text-anchor="start" textLength="43.8" lengthAdjust="spacingAndGlyphs">5’(h)</text>
<text x="172.5" y="1513" font-size="22.5" fill="#111" text-anchor="start" textLength="62.5" lengthAdjust="spacingAndGlyphs">X Post</text>
<circle cx="278.5" cy="1504.8" r="11" fill="#ed2a7b"/>
<text x="512.5" y="1512.5" font-size="22.5" fill="#111" text-anchor="start" textLength="43.8" lengthAdjust="spacingAndGlyphs">5’(h)</text>
<text x="175" y="1550.5" font-size="22.5" fill="#111" text-anchor="start" textLength="75" lengthAdjust="spacingAndGlyphs">End Bar</text>
<circle cx="278.5" cy="1542.3" r="11" fill="#1c75bc"/>
<text x="512.5" y="1550" font-size="22.5" fill="#111" text-anchor="start" textLength="43.8" lengthAdjust="spacingAndGlyphs">5’(h)</text>
</g>
</svg></body></html>
